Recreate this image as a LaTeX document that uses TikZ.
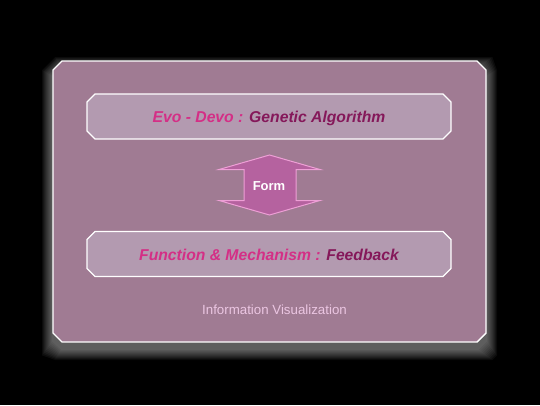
\documentclass[tikz,border=0pt]{standalone}
\usepackage{fontspec}
\setmainfont{Liberation Sans}
\definecolor{panelfill}{HTML}{A07B93}
\definecolor{boxfill}{HTML}{B39AB0}
\definecolor{arrowfill}{HTML}{B5629F}
\definecolor{arrowedge}{HTML}{EE9FD6}
\definecolor{keypink}{HTML}{D42F86}
\definecolor{keydark}{HTML}{85185A}
\definecolor{captionpink}{HTML}{EBC6E2}
% octagon with cut corners: left, top, right, bottom, cut size
\newcommand\cutbox[5]{(#1+#5,#2) -- (#3-#5,#2) -- (#3,#2+#5) -- (#3,#4-#5)
  -- (#3-#5,#4) -- (#1+#5,#4) -- (#1,#4-#5) -- (#1,#2+#5) -- cycle}
\tikzset{
  anchorbox/.style={rectangle, inner sep=0pt},
  topicedge/.style={draw=white, line width=1.2pt, fill=boxfill},
  topictext/.style={font=\fontsize{15.7}{18}\selectfont\bfseries\itshape},
  caption/.style={font=\fontsize{13.3}{16}\selectfont, text=captionpink},
  glow/.style={fill=white, opacity=0.045},
}
\begin{document}
\begin{tikzpicture}[x=1pt,y=-1pt]
  \fill[black] (0,0) rectangle (540,405);
  \useasboundingbox (0,0) rectangle (540,405);
  % soft shadow glow, a little below the panel
  \foreach \r in {1,...,11}{
    \fill[glow] \cutbox{53-\r}{68-\r}{486+\r}{349+\r}{9+0.4*\r};
  }
  % main panel
  \node[anchorbox, minimum width=433pt, minimum height=281pt] (panel) at (269.5,201.5) {};
  \draw[draw=white, line width=1.4pt, fill=panelfill] \cutbox{53}{61}{486}{342}{9};
  % topic boxes
  \node[anchorbox, minimum width=364pt, minimum height=45pt] (evo) at (269,116.5) {};
  \draw[topicedge] \cutbox{87}{94}{451}{139}{8};
  \node[topictext] at ([yshift=-2pt]evo.center) {\textcolor{keypink}{Evo - Devo :} \textcolor{keydark}{Genetic Algorithm}};
  \node[anchorbox, minimum width=364pt, minimum height=45pt] (func) at (269,254) {};
  \draw[topicedge] \cutbox{87}{231.5}{451}{276.5}{8};
  \node[topictext] at ([yshift=-0.5pt]func.center) {\textcolor{keypink}{Function \& Mechanism :} \textcolor{keydark}{Feedback}};
  % double arrow between the boxes
  \draw[fill=arrowfill, draw=arrowedge, line width=1pt, line join=miter]
    (269.5,155) -- (320,169.5) -- (296,169.5) -- (296,200.5) -- (320,200.5)
    -- (269.5,215) -- (219,200.5) -- (244,200.5) -- (244,169.5) -- (219,169.5) -- cycle;
  \node[font=\fontsize{13}{15}\selectfont\bfseries, text=white] (form) at (269,186) {Form};
  \node[caption] (cap) at (274.5,310) {Information Visualization};
\end{tikzpicture}
\end{document}
